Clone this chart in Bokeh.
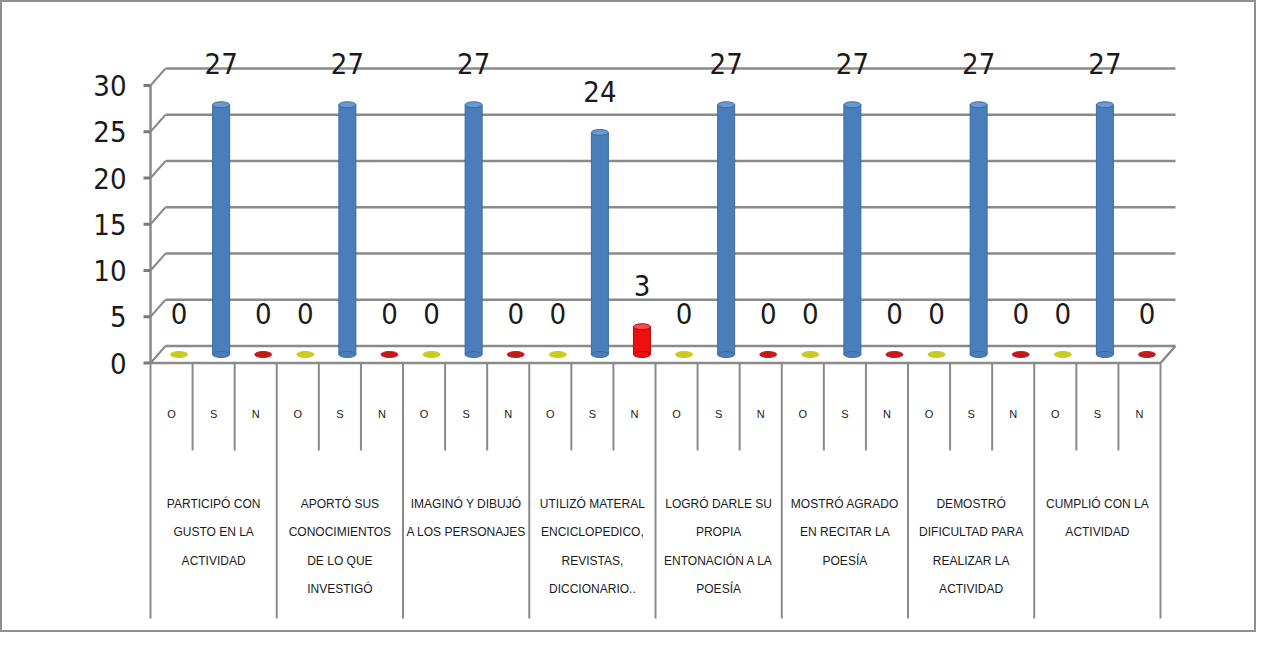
from bokeh.plotting import figure
from bokeh.models import Range1d
from bokeh.core.properties import value
from bokeh.embed import file_html
from bokeh.resources import INLINE

# ---------------- data ----------------
groups = [
    "PARTICIPÓ CON\nGUSTO EN LA\nACTIVIDAD",
    "APORTÓ SUS\nCONOCIMIENTOS\nDE LO QUE\nINVESTIGÓ",
    "IMAGINÓ Y DIBUJÓ\nA LOS PERSONAJES",
    "UTILIZÓ MATERAL\nENCICLOPEDICO,\nREVISTAS,\nDICCIONARIO..",
    "LOGRÓ DARLE SU\nPROPIA\nENTONACIÓN A LA\nPOESÍA",
    "MOSTRÓ AGRADO\nEN RECITAR LA\nPOESÍA",
    "DEMOSTRÓ\nDIFICULTAD PARA\nREALIZAR LA\nACTIVIDAD",
    "CUMPLIÓ CON LA\nACTIVIDAD",
]
subcats = ["O", "S", "N"]
o_values = [0, 0, 0, 0, 0, 0, 0, 0]
s_values = [27, 27, 27, 24, 27, 27, 27, 27]
n_values = [0, 0, 0, 3, 0, 0, 0, 0]
y_ticks = [0, 5, 10, 15, 20, 25, 30]
y_tick_labels = ["0", "5", "10", "15", "20", "25", "30"]

# ---------------- layout (pixels) ----------------
W, H = 1256, 632
PAGE = 0
AX_X0, AX_X1 = 150.0, 1160.0      # front floor edge, left/right
Y0_PX, Y30_PX = 362.5, 85.0       # front plane: value 0 / value 30
NSUB = len(groups) * len(subcats)
UPX = NSUB / (AX_X1 - AX_X0)      # data-x per pixel
VPX = 30.0 / (Y0_PX - Y30_PX)     # data-y per pixel

def ux(px):
    return (px - AX_X0) * UPX

def vy(py):
    return (Y0_PX - py) * VPX

DXu = 15 * UPX     # depth offset of back wall
DYv = 17 * VPX
MXu, MYv = DXu / 2, DYv / 2   # mid-depth (bars)

p = figure(width=W, height=H, output_backend="svg", toolbar_location=None,
           x_range=Range1d(ux(PAGE), ux(PAGE + W)),
           y_range=Range1d(vy(PAGE + H), vy(PAGE)),
           min_border=0)
p.axis.visible = False
p.grid.visible = False
p.outline_line_color = "#8e8e8e"
p.outline_line_width = 3
p.background_fill_color = "white"
p.border_fill_color = "white"

GRID = "#8a8a8a"
NARROW = value("'DejaVu Sans Condensed', 'Liberation Sans Narrow', 'Liberation Sans', sans-serif")
SMALL = value("'Liberation Sans', 'DejaVu Sans', sans-serif")
TXT = "#1a1a1a"

# back wall gridlines
p.segment(x0=[DXu] * len(y_ticks), y0=[t + DYv for t in y_ticks],
          x1=[NSUB + DXu] * len(y_ticks), y1=[t + DYv for t in y_ticks],
          line_color=GRID, line_width=2.5)
# slanted side lines from front axis to back wall
p.segment(x0=[0] * len(y_ticks), y0=y_ticks,
          x1=[DXu] * len(y_ticks), y1=[t + DYv for t in y_ticks],
          line_color=GRID, line_width=2)
# front vertical axis
p.segment(x0=[0], y0=[0], x1=[0], y1=[max(y_ticks)], line_color=GRID, line_width=2.5)
# tick marks
p.segment(x0=[ux(AX_X0 - 7)] * len(y_ticks), y0=y_ticks,
          x1=[0] * len(y_ticks), y1=y_ticks, line_color="#7a7a7a", line_width=3)
# floor front edge and right slant
p.segment(x0=[0, NSUB], y0=[0, 0], x1=[NSUB, NSUB + DXu], y1=[0, DYv],
          line_color=GRID, line_width=2.5)

# category table lines
gb = list(range(0, NSUB + 1, len(subcats)))
p.segment(x0=gb, y0=[0] * len(gb), x1=gb, y1=[vy(618)] * len(gb),
          line_color=GRID, line_width=2)
sb = [k for k in range(NSUB) if k % len(subcats) != 0]
p.segment(x0=sb, y0=[0] * len(sb), x1=sb, y1=[vy(450)] * len(sb),
          line_color=GRID, line_width=2)

# subcategory labels
p.text(x=[k + 0.5 for k in range(NSUB)], y=[vy(413)] * NSUB,
       text=[subcats[k % len(subcats)] for k in range(NSUB)],
       text_align="center", text_baseline="middle", text_font=SMALL,
       text_font_size="11px", text_color=TXT)

# group labels (multi-line)
gx, gyy, gt = [], [], []
for gi, g in enumerate(groups):
    for li, line in enumerate(g.split("\n")):
        gx.append(gi * len(subcats) + len(subcats) / 2)
        gyy.append(vy(503 + 28.5 * li))
        gt.append(line)
p.text(x=gx, y=gyy, text=gt, text_align="center", text_baseline="middle",
       text_font=SMALL, text_font_size="12px", text_color=TXT)

# y tick labels
p.text(x=[ux(126)] * len(y_ticks), y=y_ticks, text=y_tick_labels,
       text_align="right", text_baseline="middle", text_font=NARROW,
       text_font_size="29px", text_color=TXT)

# bars
series = [(o_values, 0, "#c9cc1e", "#b5b812", "#d6d93a"),
          (s_values, 1, "#4a7ebb", "#3b6aa3", "#6a98cf"),
          (n_values, 2, "#ee1010", "#b80a0a", "#ff4a4a")]
for vals, si, col, edge, cap in series:
    xs = [gi * len(subcats) + si + 0.5 + MXu for gi in range(len(vals))]
    nz = [i for i, v in enumerate(vals) if v > 0]
    z = [i for i, v in enumerate(vals) if v == 0]
    if nz:
        p.vbar(x=[xs[i] for i in nz], bottom=[MYv] * len(nz),
               top=[vals[i] + MYv for i in nz], width=17 * UPX,
               fill_color=col, line_color=edge, line_width=1)
        p.ellipse(x=[xs[i] for i in nz], y=[MYv] * len(nz), width=17, height=6,
                  width_units="screen", height_units="screen",
                  fill_color=col, line_color=edge)
        p.ellipse(x=[xs[i] for i in nz], y=[vals[i] + MYv for i in nz], width=17, height=6,
                  width_units="screen", height_units="screen",
                  fill_color=cap, line_color=edge)
    if z:
        zc = "#c21a1a" if si == 2 else col
        p.ellipse(x=[xs[i] for i in z], y=[MYv] * len(z), width=17, height=6,
                  width_units="screen", height_units="screen",
                  fill_color=zc, line_color=zc)
    # value labels
    p.text(x=xs, y=[v + MYv for v in vals], text=[str(v) for v in vals],
           y_offset=-41, text_align="center", text_baseline="middle",
           text_font=NARROW, text_font_size="29px", text_color=TXT)

open("out.html", "w").write(file_html(p, INLINE))
